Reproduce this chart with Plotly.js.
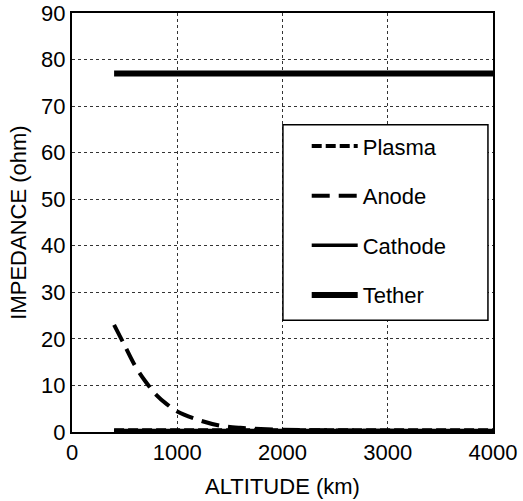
<!DOCTYPE html>
<html>
<head>
<meta charset="utf-8">
<script src="https://cdn.plot.ly/plotly-3.0.1.min.js"></script>
<style>html,body{margin:0;padding:0;background:#fff;}#chart{width:523px;height:501px;}</style>
</head>
<body>
<div id="chart"></div>
<script>
// Data
const altitudes = [400, 500, 600, 700, 800, 900, 1000, 1200, 1400, 1600, 2000, 2500, 3000, 3500, 4000];
const plasma  = [0.4, 0.4, 0.4, 0.4, 0.4, 0.4, 0.4, 0.4, 0.4, 0.4, 0.4, 0.4, 0.4, 0.4, 0.4];
const anode   = [23.0, 18.6, 14.2, 10.8, 8.0, 6.0, 4.4, 2.6, 1.4, 0.9, 0.5, 0.35, 0.25, 0.2, 0.15];
const cathode = [0.3, 0.3, 0.3, 0.3, 0.3, 0.3, 0.3, 0.3, 0.3, 0.3, 0.3, 0.3, 0.3, 0.3, 0.3];
const tether  = [77, 77, 77, 77, 77, 77, 77, 77, 77, 77, 77, 77, 77, 77, 77];
const seriesNames = ["Plasma", "Anode", "Cathode", "Tether"];
const xTicks = [0, 1000, 2000, 3000, 4000];
const yTicks = [0, 10, 20, 30, 40, 50, 60, 70, 80, 90];

const traces = [
  {x: altitudes, y: plasma, name: seriesNames[0], legendgroup: "a", mode: "lines",
   line: {color: "#000", width: 4, dash: "10px,4px"}},
  {x: altitudes, y: anode, name: seriesNames[1], legendgroup: "b", mode: "lines",
   line: {color: "#000", width: 4, dash: "18px,9px", shape: "spline"}},
  {x: altitudes, y: cathode, name: seriesNames[2], legendgroup: "c", mode: "lines",
   line: {color: "#000", width: 3.5}},
  {x: altitudes, y: tether, name: seriesNames[3], legendgroup: "d", mode: "lines",
   line: {color: "#000", width: 6}}
];

const font = {family: "Liberation Sans, Arial, sans-serif", size: 22, color: "#000"};
const layout = {
  width: 523, height: 501,
  margin: {l: 72, r: 30, t: 13, b: 69},
  paper_bgcolor: "#fff", plot_bgcolor: "#fff",
  font: font,
  showlegend: true,
  legend: {
    x: 0.5575, y: 0.732, xanchor: "left", yanchor: "top",
    borderwidth: 0, bgcolor: "rgba(0,0,0,0)",
    traceorder: "grouped", tracegroupgap: 18,
    font: {family: font.family, size: 22, color: "#000"},
    itemwidth: 46
  },
  shapes: [{
    type: "rect", xref: "paper", yref: "paper",
    x0: 0.501, x1: 0.988, y0: 0.267, y1: 0.733,
    line: {color: "#000", width: 1.5}, fillcolor: "#fff", layer: "above"
  }],
  xaxis: {
    range: [0, 4000], tickvals: xTicks, ticktext: xTicks.map(String),
    showline: true, linecolor: "#000", linewidth: 2, mirror: true,
    showgrid: true, gridcolor: "#333", griddash: "dot", gridwidth: 1,
    zeroline: false, ticks: "", ticklen: 0,
    title: {text: "ALTITUDE (km)", font: font, standoff: 14}
  },
  yaxis: {
    range: [0, 90], tickvals: yTicks, ticktext: yTicks.map(String),
    showline: true, linecolor: "#000", linewidth: 2, mirror: true,
    showgrid: true, gridcolor: "#333", griddash: "dot", gridwidth: 1,
    zeroline: false, ticks: "", ticklen: 0,
    title: {text: "IMPEDANCE (ohm)", font: font, standoff: 8}
  }
};
Plotly.newPlot("chart", traces, layout, {displayModeBar: false, staticPlot: true});
</script>
</body>
</html>
